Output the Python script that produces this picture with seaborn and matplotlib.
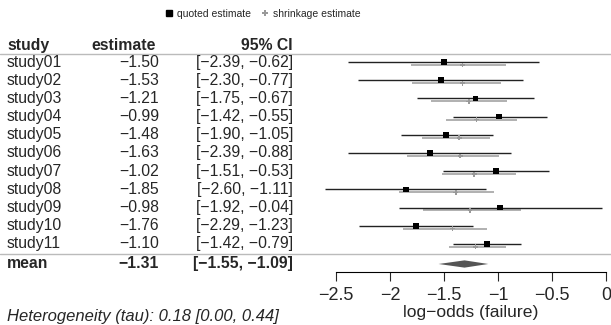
import seaborn as sns
import matplotlib.pyplot as plt
import matplotlib.transforms as mtransforms
from matplotlib.lines import Line2D
import pandas as pd

# data
studies = ["study01", "study02", "study03", "study04", "study05", "study06",
           "study07", "study08", "study09", "study10", "study11"]
estimate = [-1.50, -1.53, -1.21, -0.99, -1.48, -1.63, -1.02, -1.85, -0.98, -1.76, -1.10]
ci_lo = [-2.39, -2.30, -1.75, -1.42, -1.90, -2.39, -1.51, -2.60, -1.92, -2.29, -1.42]
ci_hi = [-0.62, -0.77, -0.67, -0.55, -1.05, -0.88, -0.53, -1.11, -0.04, -1.23, -0.79]
shrink = [-1.33, -1.33, -1.27, -1.20, -1.36, -1.35, -1.22, -1.39, -1.26, -1.42, -1.21]
shrink_lo = [-1.81, -1.80, -1.62, -1.48, -1.70, -1.84, -1.52, -1.92, -1.69, -1.88, -1.45]
shrink_hi = [-0.93, -0.97, -0.92, -0.82, -1.07, -0.99, -0.83, -1.04, -0.79, -1.10, -0.93]
mean_est, mean_lo, mean_hi = -1.31, -1.55, -1.09
tau_text = "Heterogeneity (tau): 0.18 [0.00, 0.44]"
xticks = [-2.5, -2, -1.5, -1, -0.5, 0]
xticklabels = ["\u22122.5", "\u22122", "\u22121.5", "\u22121", "\u22120.5", "0"]

sns.set_style("white")
plt.rcParams['font.family'] = ['Liberation Sans', 'DejaVu Sans']

df = pd.DataFrame({"study": studies, "est": estimate, "lo": ci_lo, "hi": ci_hi,
                   "shrink": shrink, "slo": shrink_lo, "shi": shrink_hi})
df["row"] = range(len(df))
df["srow"] = df["row"] + 0.16
mean_row = len(df) + 0.1

W, H = 611, 325
fig = plt.figure(figsize=(W / 100, H / 100), dpi=100)
ax = fig.add_axes([314.4 / W, 53 / H, 297 / W, 236 / H])
ax.set_xlim(-2.7, 0.05)
ax.set_ylim(11.54, -1.43)

# confidence intervals
ax.hlines(df["srow"], df["slo"], df["shi"], color="#aaaaaa", lw=1.3, zorder=1)
ax.hlines(df["row"], df["lo"], df["hi"], color="#222222", lw=1.0, zorder=2)
sns.scatterplot(data=df, x="shrink", y="srow", marker="P", s=12, color="#999999",
                edgecolor="none", ax=ax, zorder=3)
sns.scatterplot(data=df, x="est", y="row", marker="s", s=16, color="black",
                edgecolor="none", ax=ax, zorder=4)

# summary diamond
ax.fill([mean_lo, mean_est, mean_hi, mean_est],
        [mean_row, mean_row - 0.2, mean_row, mean_row + 0.2],
        color="#555555", lw=0, zorder=3)

# axis styling
for s in ["top", "right", "left"]:
    ax.spines[s].set_visible(False)
ax.spines["bottom"].set_bounds(xticks[0], xticks[-1])
ax.spines["bottom"].set_color("black")
ax.spines["bottom"].set_linewidth(0.8)
ax.set_yticks([])
ax.set_xticks(xticks, xticklabels)
ax.tick_params(axis="x", direction="out", length=6.5, width=0.8, pad=4,
               labelsize=13, bottom=True)
ax.set_xlabel("log\u2212odds (failure)", fontsize=12.6, labelpad=1)
ax.xaxis.label.set_x((471 - 314.4) / 297)
ax.set_ylabel("")

# table columns to the left
tr = mtransforms.blended_transform_factory(fig.transFigure, ax.transData)
fs = 11.3
hdr = -0.93
fig.text(7 / W, hdr, "study", transform=tr, fontsize=fs, fontweight="bold", va="center")
fig.text(156 / W, hdr, "estimate", transform=tr, fontsize=fs, fontweight="bold",
         va="center", ha="right")
fig.text(293 / W, hdr, "95% CI", transform=tr, fontsize=fs, fontweight="bold",
         va="center", ha="right")


def fmt(v):
    return f"{v:.2f}".replace("-", "\u2212")


for i, r in df.iterrows():
    fig.text(7 / W, r["row"], r["study"], transform=tr, fontsize=fs, va="center")
    fig.text(159 / W, r["row"], fmt(r["est"]), transform=tr, fontsize=fs,
             va="center", ha="right")
    fig.text(293 / W, r["row"], f"[{fmt(r['lo'])}, {fmt(r['hi'])}]", transform=tr,
             fontsize=fs, va="center", ha="right")

fig.text(7 / W, mean_row, "mean", transform=tr, fontsize=fs, fontweight="bold", va="center")
fig.text(159 / W, mean_row, fmt(mean_est), transform=tr, fontsize=fs,
         fontweight="bold", va="center", ha="right")
fig.text(293 / W, mean_row, f"[{fmt(mean_lo)}, {fmt(mean_hi)}]", transform=tr,
         fontsize=fs, fontweight="bold", va="center", ha="right")

# separator lines
for yy in [-0.44, 10.55]:
    fig.add_artist(Line2D([0, 1], [yy, yy], transform=tr, color="#bbbbbb", lw=1.0))

fig.text(7 / W, 1 - 316 / H, tau_text, fontsize=12, style="italic", va="center")

# legend
handles = [Line2D([], [], marker="s", color="black", ls="none", markersize=4.5),
           Line2D([], [], marker="P", color="#999999", ls="none", markersize=4,
                  markeredgewidth=0)]
fig.legend(handles, ["quoted estimate", "shrinkage estimate"], loc="center",
           bbox_to_anchor=(262 / W, 1 - 14 / H), ncol=2, frameon=False, fontsize=7.5,
           handlelength=1.0, handletextpad=0.3, columnspacing=0.8)

fig.savefig("out.png", dpi=100)
